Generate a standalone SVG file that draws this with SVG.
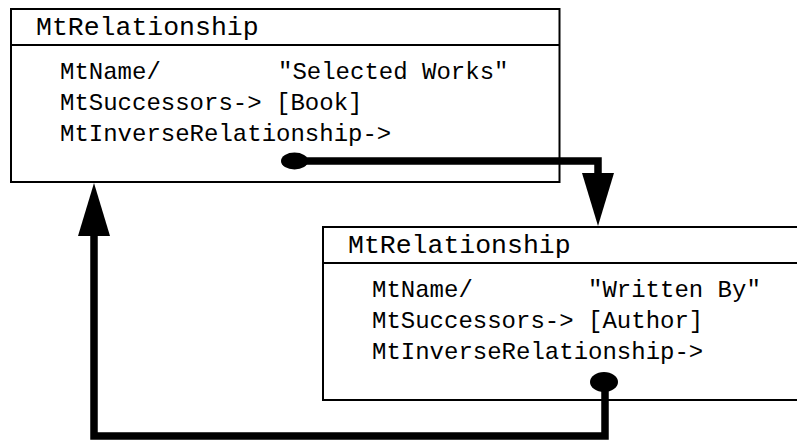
<svg xmlns="http://www.w3.org/2000/svg" width="797" height="441" viewBox="0 0 797 441">
  <style>
    .box { fill: #fff; stroke: #000; stroke-width: 2; }
    .sep { stroke: #000; stroke-width: 2; }
    .title { font-family: "Liberation Mono", "Courier New", monospace; font-size: 26.5px; fill: #000; }
    .field { font-family: "Liberation Mono", "Courier New", monospace; font-size: 24px; fill: #000; }
    .link { fill: none; stroke: #000; stroke-width: 7.5; stroke-linejoin: miter; }
    .dot { fill: #000; }
    .head { fill: #000; }
  </style>
  <rect width="797" height="441" fill="#fff"/>

  <!-- Relationship "Selected Works" -->
  <g id="rel-selected-works">
    <rect class="box" x="11" y="9" width="548.5" height="173"/>
    <line class="sep" x1="11" y1="45" x2="559.5" y2="45"/>
    <text class="title" x="36" y="35">MtRelationship</text>
    <text class="field" x="60" y="79">MtName/</text>
    <text class="field" x="278" y="79">"Selected Works"</text>
    <text class="field" x="60" y="110">MtSuccessors-&gt; [Book]</text>
    <text class="field" x="60" y="141">MtInverseRelationship-&gt;</text>
  </g>

  <!-- Relationship "Written By" (runs past the right edge) -->
  <g id="rel-written-by">
    <rect class="box" x="323" y="227" width="500" height="173"/>
    <line class="sep" x1="323" y1="263" x2="823" y2="263"/>
    <text class="title" x="348" y="253">MtRelationship</text>
    <text class="field" x="372" y="297">MtName/</text>
    <text class="field" x="588" y="297">"Written By"</text>
    <text class="field" x="372" y="328">MtSuccessors-&gt; [Author]</text>
    <text class="field" x="372" y="359">MtInverseRelationship-&gt;</text>
  </g>

  <!-- Inverse relationship links -->
  <g id="connectors">
    <ellipse class="dot" cx="294.5" cy="161" rx="13.5" ry="8.5"/>
    <polyline class="link" points="294,161 598,161 598,176"/>
    <polygon class="head" points="582,173 614,173 598,226"/>

    <ellipse class="dot" cx="604" cy="382" rx="14" ry="10"/>
    <polyline class="link" points="605,382 605,436 94,436 94,233"/>
    <polygon class="head" points="78,236 110,236 94,183"/>
  </g>
</svg>
